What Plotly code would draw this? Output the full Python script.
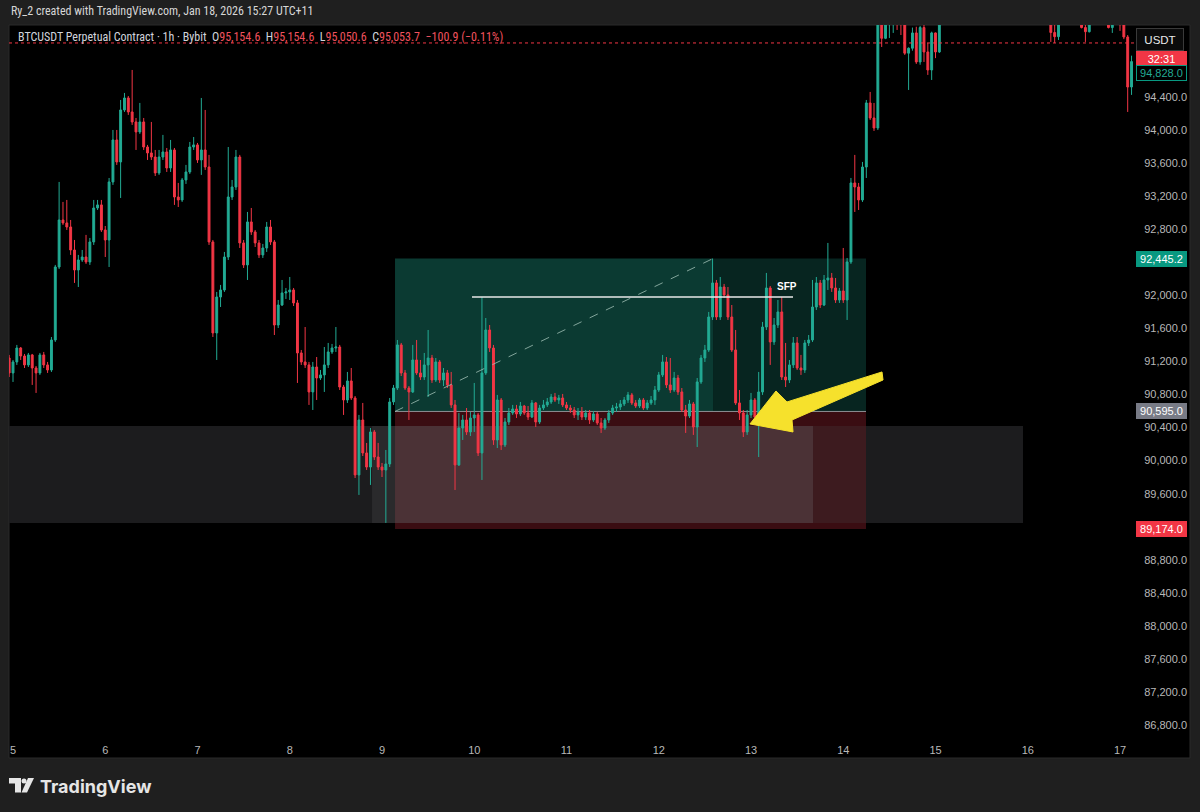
import plotly.graph_objects as go
import pandas as pd

# ---------------- data (BTCUSDT 1h) ----------------
START = "2026-01-04 23:00"

opens = [91242, 91061, 91194, 91363, 91266, 91158, 91279, 91121, 91061, 91279, 91158,
 91097, 91460, 92343, 92912, 92876, 92827, 92549, 92307, 92428, 92464,
 92404, 92646, 93057, 93094, 92791, 92670, 93372, 93880, 93614, 94243,
 94388, 94219, 94098, 93977, 94098, 93795, 93723, 93674, 93481, 93674,
 93735, 93541, 93759, 93190, 93154, 93396, 93493, 93795, 93820, 93638,
 93759, 93553, 92646, 91545, 91980, 92065, 92464, 93190, 93311, 93674,
 92634, 92368, 92888, 92767, 92634, 92489, 92573, 92827, 92646, 91641,
 91883, 92029, 92041, 92065, 91908, 91303, 91194, 91158, 90831, 91133,
 91000, 91037, 91158, 91315, 91363, 91375, 90891, 90734, 90964, 90758,
 89827, 90492, 90093, 89923, 90347, 90044, 89923, 89887, 89960, 90710,
 90879, 91400, 91061, 90879, 90831, 91218, 91061, 91012, 91158, 91242,
 90976, 91194, 90976, 91061, 90916, 90674, 89948, 90395, 90492, 90347,
 90516, 90553, 90093, 91061, 91581, 91363, 90250, 90734, 90190, 90468,
 90577, 90625, 90565, 90661, 90577, 90528, 90698, 90468, 90637, 90674,
 90710, 90770, 90734, 90758, 90674, 90637, 90613, 90553, 90589, 90528,
 90577, 90492, 90565, 90456, 90395, 90492, 90577, 90637, 90649, 90686,
 90734, 90795, 90698, 90661, 90734, 90637, 90698, 90734, 90855, 91037,
 91194, 90916, 90855, 91000, 90831, 90613, 90540, 90686, 90407, 90952,
 91242, 91339, 91738, 92150, 91738, 92101, 92005, 91738, 91339, 90698,
 90577, 90347, 90553, 90734, 90528, 90831, 91617, 92089, 91436, 91641,
 91799, 91012, 90976, 91158, 91424, 91121, 91097, 91424, 91460, 91859,
 92150, 91883, 92186, 92210, 92089, 91944, 92053, 91944, 92404, 93360,
 93311, 93154, 93553, 94328, 94146, 94025, 95600, 95110, 95400, 95550,
 95700, 95500, 95300, 94930, 94990, 95175, 94824, 95240, 94945, 94727,
 95175, 94945, 95600, 95800, 96000, 96200, 96400, 96600, 96500, 96700,
 96850, 96650, 96400, 96500, 96350, 96150, 96300, 96500, 96300, 96000,
 96100, 95950, 95800, 95900, 95700, 95800, 95600, 95700, 95500, 95600,
 95450, 95180, 95130, 95400, 95600, 95700, 95650, 95550, 95500, 95240,
 95190, 95450, 95600, 95650, 95550, 95500, 95240, 95500, 95550, 95300,
 95126, 94521]

highs = [91279, 91218, 91400, 91375, 91291, 91303, 91291, 91145, 91303, 91315, 91194,
 91496, 92368, 93372, 93130, 93154, 92912, 92670, 92489, 92549, 92731,
 92694, 93154, 93154, 93154, 92839, 93420, 94001, 94001, 94364, 94449,
 94412, 94727, 94146, 94328, 94146, 93820, 94098, 93759, 93759, 93941,
 93783, 93880, 93783, 93360, 93420, 93578, 93856, 93916, 93844, 94388,
 94243, 93699, 92670, 92041, 92126, 92525, 93795, 93396, 93759, 93699,
 92670, 93009, 93057, 92791, 92670, 92622, 92888, 92912, 92670, 91944,
 92186, 92089, 92222, 92089, 91944, 91339, 91617, 91194, 91194, 91254,
 91097, 91375, 91424, 91412, 91617, 91400, 90916, 91073, 91121, 90782,
 90553, 90698, 90214, 90395, 90371, 90214, 89972, 90129, 90758, 90916,
 91460, 91424, 91097, 90903, 91400, 91460, 91218, 91303, 91581, 91279,
 91242, 91218, 91121, 91097, 91073, 90734, 90577, 90553, 90637, 90589,
 90940, 90577, 91980, 91726, 91641, 91400, 90795, 90758, 90516, 90637,
 90674, 90674, 90710, 90674, 90661, 90734, 90710, 90674, 90734, 90758,
 90807, 90819, 90795, 90807, 90710, 90674, 90649, 90637, 90649, 90613,
 90613, 90601, 90589, 90516, 90516, 90613, 90674, 90698, 90734, 90770,
 90831, 90819, 90734, 90758, 90758, 90734, 90782, 90903, 91073, 91279,
 91254, 91242, 91073, 91037, 90879, 90674, 90734, 90710, 91000, 91279,
 91400, 91799, 92445, 92186, 92222, 92138, 92101, 91883, 91581, 90855,
 90613, 90613, 90819, 90758, 91073, 91678, 92271, 92113, 91726, 91944,
 91980, 91424, 91218, 91496, 91496, 91279, 91460, 91520, 92186, 92222,
 92186, 92246, 92634, 92271, 92210, 92089, 92573, 92452, 93420, 93699,
 93360, 93614, 94364, 94461, 94328, 95800, 95700, 95450, 95650, 95800,
 95850, 95600, 95400, 95000, 95240, 95250, 95260, 95280, 95054, 95190,
 95180, 95800, 95900, 96100, 96300, 96500, 96700, 96900, 96800, 97000,
 97100, 96800, 96600, 96700, 96500, 96400, 96600, 96650, 96400, 96200,
 96300, 96100, 96000, 96050, 95900, 95950, 95800, 95850, 95700, 95750,
 95550, 95300, 95450, 95650, 95800, 95850, 95750, 95700, 95600, 95300,
 95500, 95700, 95800, 95750, 95650, 95600, 95550, 95700, 95650, 95400,
 95150, 94900]

lows = [91012, 90952, 91158, 91218, 91121, 91133, 90916, 90819, 91037, 91121, 91061,
 91073, 91436, 92319, 92852, 92791, 92489, 92150, 92101, 92404, 92380,
 92368, 92610, 93033, 92767, 92464, 92343, 93336, 93578, 93178, 94219,
 94183, 94062, 93759, 93953, 93759, 93638, 93638, 93444, 93457, 93638,
 93493, 93493, 93094, 93069, 93130, 93348, 93469, 93759, 93602, 93457,
 93517, 92610, 91496, 91218, 91859, 92041, 92428, 93154, 93275, 92573,
 92331, 92186, 92731, 92585, 92452, 92452, 92525, 92610, 91520, 91605,
 91871, 91956, 91944, 91871, 90940, 91158, 91121, 90674, 90613, 90734,
 90976, 90831, 91121, 91291, 91315, 90855, 90553, 90698, 90734, 89790,
 89585, 90056, 89887, 89706, 90008, 89887, 89802, 89246, 89923, 90674,
 90855, 91024, 90855, 90492, 90819, 91037, 90976, 90976, 90770, 90940,
 90952, 90940, 90903, 90879, 90637, 89645, 89935, 90250, 90311, 90298,
 90347, 90056, 89766, 91037, 91315, 90190, 90153, 90129, 90165, 90432,
 90553, 90516, 90540, 90553, 90492, 90516, 90407, 90444, 90613, 90649,
 90686, 90710, 90686, 90649, 90613, 90577, 90516, 90492, 90492, 90492,
 90444, 90468, 90432, 90335, 90371, 90456, 90553, 90589, 90613, 90661,
 90698, 90674, 90637, 90637, 90613, 90613, 90674, 90674, 90831, 91012,
 90879, 90819, 90831, 90795, 90589, 90335, 90516, 90311, 90165, 90928,
 91194, 91315, 91702, 91702, 91702, 91968, 91702, 91315, 90674, 90492,
 90286, 90311, 90516, 90492, 90044, 90795, 91581, 91158, 91400, 91605,
 90976, 90891, 90940, 91121, 91097, 91037, 91061, 91387, 91436, 91823,
 91847, 91871, 92065, 92041, 91908, 91908, 91908, 91702, 92380, 93009,
 93033, 93130, 93420, 94122, 93989, 94000, 95005, 95100, 95114, 95175,
 95211, 95150, 94909, 94485, 94960, 94800, 94790, 94824, 94667, 94606,
 94870, 94933, 95450, 95700, 95900, 96100, 96300, 96400, 96350, 96550,
 96600, 96300, 96200, 96300, 96050, 96000, 96200, 96250, 95900, 95800,
 95900, 95700, 95600, 95650, 95500, 95550, 95400, 95450, 95350, 95400,
 95066, 95054, 95090, 95350, 95500, 95550, 95450, 95400, 95230, 95066,
 95180, 95350, 95500, 95450, 95350, 95230, 95175, 95400, 95200, 95100,
 94219, 94425]

closes = [91061, 91194, 91363, 91266, 91158, 91279, 91121, 91061, 91279, 91158, 91097,
 91460, 92343, 92912, 92876, 92827, 92549, 92307, 92428, 92464, 92404,
 92646, 93057, 93094, 92791, 92670, 93372, 93880, 93614, 94243, 94388,
 94219, 94098, 93977, 94098, 93795, 93723, 93674, 93481, 93674, 93735,
 93541, 93759, 93190, 93154, 93396, 93493, 93795, 93820, 93638, 93759,
 93553, 92646, 91545, 91980, 92065, 92464, 93190, 93311, 93674, 92634,
 92368, 92888, 92767, 92634, 92489, 92573, 92827, 92646, 91641, 91883,
 92029, 92041, 92065, 91908, 91303, 91194, 91158, 90831, 91133, 91000,
 91037, 91158, 91315, 91363, 91375, 90891, 90734, 90964, 90758, 89827,
 90492, 90093, 89923, 90347, 90044, 89923, 89887, 89960, 90710, 90879,
 91400, 91061, 90879, 90831, 91218, 91061, 91012, 91158, 91242, 90976,
 91194, 90976, 91061, 90916, 90674, 89948, 90395, 90492, 90347, 90516,
 90553, 90093, 91061, 91581, 91363, 90250, 90734, 90190, 90468, 90577,
 90625, 90565, 90661, 90577, 90528, 90698, 90468, 90637, 90674, 90710,
 90770, 90734, 90758, 90674, 90637, 90613, 90553, 90589, 90528, 90577,
 90492, 90565, 90456, 90395, 90492, 90577, 90637, 90649, 90686, 90734,
 90795, 90698, 90661, 90734, 90637, 90698, 90734, 90855, 91037, 91194,
 90916, 90855, 91000, 90831, 90613, 90540, 90686, 90407, 90952, 91242,
 91339, 91738, 92150, 91738, 92101, 92005, 91738, 91339, 90698, 90577,
 90347, 90553, 90734, 90528, 90831, 91617, 92089, 91436, 91641, 91799,
 91012, 90976, 91158, 91424, 91121, 91097, 91424, 91460, 91859, 92150,
 91883, 92186, 92210, 92089, 91944, 92053, 91944, 92404, 93360, 93311,
 93154, 93553, 94328, 94146, 94025, 95600, 95110, 95400, 95550, 95700,
 95500, 95300, 94930, 94990, 95175, 94824, 95240, 94945, 94727, 95175,
 94945, 95600, 95800, 96000, 96200, 96400, 96600, 96500, 96700, 96850,
 96650, 96400, 96500, 96350, 96150, 96300, 96500, 96300, 96000, 96100,
 95950, 95800, 95900, 95700, 95800, 95600, 95700, 95500, 95600, 95450,
 95180, 95130, 95400, 95600, 95700, 95650, 95550, 95500, 95240, 95190,
 95450, 95600, 95650, 95550, 95500, 95240, 95500, 95550, 95300, 95126,
 94521, 94828]

TICK_DATES = ["2026-01-05", "2026-01-06", "2026-01-07", "2026-01-08", "2026-01-09",
              "2026-01-10", "2026-01-11", "2026-01-12", "2026-01-13", "2026-01-14",
              "2026-01-15", "2026-01-16", "2026-01-17"]
DAY_LABELS = ["5", "6", "7", "8", "9", "10", "11", "12", "13", "14", "15", "16", "17"]
# price scale labels that are visible (the others are covered by price tags)
PRICE_TICKS = [86800, 87200, 87600, 88000, 88400, 88800, 89600, 90000, 90400,
               90800, 91200, 91600, 92000, 92800, 93200, 93600, 94000, 94400]

# drawing objects (time / price anchors)
X_RANGE = ["2026-01-04 22:57:36", "2026-01-17 03:54:00"]
Y_RANGE = [86644, 95271]
ZONE_T = ["2026-01-04 22:57:36", "2026-01-15 22:46"]
ZONE_B_T = ["2026-01-08 21:24", "2026-01-13 16:08"]
ZONE_P = [89246, 90419]
POS_T = ["2026-01-09 03:23", "2026-01-14 05:55"]
TARGET_HIT_T = "2026-01-12 14:07"
ENTRY, TARGET, STOP = 90595.0, 92445.2, 89174.0
SFP_T = ["2026-01-09 23:25", "2026-01-13 10:56"]
SFP_P = 91980
SFP_LABEL_T, SFP_LABEL_P = "2026-01-13 09:20", 92105
LAST_PRICE = 95053.7
ARROW_T = ["2026-01-12 23:44", "2026-01-13 06:30", "2026-01-13 09:22", "2026-01-14 10:05",
           "2026-01-14 10:21", "2026-01-13 10:40", "2026-01-13 10:56", "2026-01-12 23:44"]
ARROW_P = [90444, 90843, 90710, 91073, 90976, 90492, 90347, 90444]

UP, DOWN = "#22ab94", "#f23645"
FONT = "Liberation Sans, Arial, sans-serif"
NARROW = "Liberation Sans Narrow, Roboto Condensed, Liberation Sans, sans-serif"
PAGE_BG = "#1f1f1f"

times = pd.date_range(START, periods=len(closes), freq="h")

# pixel helpers for page decorations (plot area: x 9..1135, y 25..738)
def px(x):
    return (x - 9) / 1126.0

def py(y):
    return (738 - y) / 713.0

fig = go.Figure()
fig.add_trace(go.Candlestick(
    x=times, open=opens, high=highs, low=lows, close=closes,
    increasing=dict(line=dict(color=UP, width=1), fillcolor=UP),
    decreasing=dict(line=dict(color=DOWN, width=1), fillcolor=DOWN),
    whiskerwidth=0, hoverinfo="skip", showlegend=False))

fig.add_trace(go.Scatter(
    x=ARROW_T, y=ARROW_P, mode="lines", fill="toself",
    fillcolor="#f6e12c", line=dict(color="#f6e12c", width=1),
    hoverinfo="skip", showlegend=False))

shapes = []
# chart panel
shapes.append(dict(type="rect", xref="paper", yref="paper", x0=px(9), x1=px(1190),
                   y0=py(758), y1=py(25), fillcolor="#000000",
                   line=dict(color="#2a2a2a", width=1), layer="below"))

def rect(x0, x1, y0, y1, color, layer="below"):
    shapes.append(dict(type="rect", xref="x", yref="y", x0=x0, x1=x1, y0=y0, y1=y1,
                       fillcolor=color, line=dict(width=0), layer=layer))

rect(ZONE_T[0], ZONE_T[1], ZONE_P[0], ZONE_P[1], "#1c1c1e")
rect(ZONE_B_T[0], ZONE_B_T[1], ZONE_P[0], ZONE_P[1], "#2a2a2c")
rect(POS_T[0], TARGET_HIT_T, ENTRY, TARGET, "#0b3a32")
rect(TARGET_HIT_T, POS_T[1], ENTRY, TARGET, "#072520")
rect(POS_T[0], POS_T[1], STOP, ENTRY, "#3a0d12")
rect(POS_T[0], POS_T[1], ZONE_P[0], ZONE_P[1], "#3d1b1f")
rect(POS_T[0], ZONE_B_T[1], ZONE_P[0], ZONE_P[1], "#4b3236")
# entry line
shapes.append(dict(type="line", xref="x", yref="y", x0=POS_T[0], x1=POS_T[1], y0=ENTRY, y1=ENTRY,
                   line=dict(color="#8e9094", width=1), layer="below"))
# path line entry -> target
shapes.append(dict(type="line", xref="x", yref="y", x0=POS_T[0], x1=TARGET_HIT_T, y0=ENTRY, y1=TARGET,
                   line=dict(color="rgba(170,200,190,0.75)", width=1, dash="dash"), layer="above"))
# SFP level
shapes.append(dict(type="line", xref="x", yref="y", x0=SFP_T[0], x1=SFP_T[1], y0=SFP_P, y1=SFP_P,
                   line=dict(color="#e8e8e8", width=1.5), layer="above"))
# last price dotted line
shapes.append(dict(type="line", xref="paper", yref="y", x0=0, x1=1, y0=LAST_PRICE, y1=LAST_PRICE,
                   line=dict(color=DOWN, width=1, dash="dot"), layer="above"))
# TradingView logo glyph
shapes.append(dict(type="rect", xref="paper", yref="paper", x0=px(9), x1=px(21), y0=py(783.5), y1=py(778),
                   fillcolor="#e6e6e6", line=dict(width=0)))
shapes.append(dict(type="rect", xref="paper", yref="paper", x0=px(15), x1=px(21), y0=py(792.5), y1=py(778),
                   fillcolor="#e6e6e6", line=dict(width=0)))
shapes.append(dict(type="circle", xref="paper", yref="paper", x0=px(21.5), x1=px(26.5), y0=py(783.5), y1=py(778.5),
                   fillcolor="#e6e6e6", line=dict(width=0)))
shapes.append(dict(type="path", xref="paper", yref="paper",
                   path=f"M {px(28)},{py(778)} L {px(34)},{py(778)} L {px(27)},{py(792.5)} L {px(21.5)},{py(792.5)} Z",
                   fillcolor="#e6e6e6", line=dict(width=0)))

ann = []
ann.append(dict(xref="paper", yref="paper", x=px(9), y=py(11), xanchor="left", yanchor="middle",
                text="Ry_2 created with TradingView.com, Jan 18, 2026 15:27 UTC+11",
                showarrow=False, font=dict(family=NARROW, size=12, color="#d6d6d6")))
red = "#f0525e"
legend = ("BTCUSDT Perpetual Contract · 1h · Bybit&nbsp;&nbsp;"
          f"O<span style='color:{red}'>95,154.6</span>&nbsp; "
          f"H<span style='color:{red}'>95,154.6</span>&nbsp; "
          f"L<span style='color:{red}'>95,050.6</span>&nbsp; "
          f"C<span style='color:{red}'>95,053.7</span>&nbsp; "
          f"<span style='color:{red}'>−100.9 (−0.11%)</span>")
ann.append(dict(xref="paper", yref="paper", x=px(16), y=py(37), xanchor="left", yanchor="middle",
                text=legend, showarrow=False, font=dict(family=NARROW, size=12, color="#d1d4dc")))
ann.append(dict(xref="x", yref="y", x=SFP_LABEL_T, y=SFP_LABEL_P, text="<b>SFP</b>", showarrow=False,
                font=dict(family=FONT, size=10, color="#ffffff")))

def price_label(y, text, bg, fg="#ffffff", border=None, yref="y"):
    ann.append(dict(xref="paper", yref=yref, x=px(1136), y=y, xanchor="left", yanchor="middle",
                    text=text, showarrow=False, width=47, height=12, align="center",
                    bgcolor=bg, bordercolor=border or bg, borderwidth=1, borderpad=1,
                    font=dict(family=FONT, size=11, color=fg)))

price_label(TARGET, "92,445.2", "#089981")
price_label(ENTRY, "90,595.0", "#787b86")
price_label(STOP, "89,174.0", "#f23645")
price_label(py(58.5), "32:31", "#f23645", yref="paper")
price_label(py(73), "94,828.0", "#000000", fg="#22ab94", border="#089981", yref="paper")
ann.append(dict(xref="paper", yref="paper", x=px(1136), y=py(39), xanchor="left", yanchor="middle",
                text="USDT", showarrow=False, width=44, height=19, align="center",
                bgcolor="#0b0b0b", bordercolor="#3a3a3a", borderwidth=1, borderpad=1,
                font=dict(family=FONT, size=11.5, color="#e8e8e8")))
ann.append(dict(xref="paper", yref="paper", x=px(38), y=py(786), xanchor="left", yanchor="middle",
                text="<b>TradingView</b>", showarrow=False,
                font=dict(family="Inter, Roboto, sans-serif", size=18, color="#e6e6e6")))

fig.update_layout(
    width=1200, height=812,
    margin=dict(l=9, r=65, t=25, b=74, pad=0),
    paper_bgcolor=PAGE_BG, plot_bgcolor="#000000",
    shapes=shapes, annotations=ann, showlegend=False,
    font=dict(family=FONT, color="#b8b8b8"),
    xaxis=dict(type="date", range=X_RANGE, rangeslider=dict(visible=False),
               showgrid=False, zeroline=False, showline=False,
               tickvals=TICK_DATES, ticktext=DAY_LABELS,
               ticks="outside", ticklen=2, tickcolor="rgba(0,0,0,0)",
               tickfont=dict(family=FONT, size=11, color="#b8b8b8")),
    yaxis=dict(side="right", range=Y_RANGE, showgrid=False, zeroline=False, showline=False,
               tickvals=PRICE_TICKS, ticktext=[f"{v:,.1f}" for v in PRICE_TICKS],
               ticks="outside", ticklen=6, tickcolor="rgba(0,0,0,0)",
               tickfont=dict(family=FONT, size=11, color="#b8b8b8")),
)

fig.write_html(
    "out.html",
    config={"displayModeBar": False},
    post_script=("document.body.style.margin='0';"
                 "document.body.style.overflow='hidden';"
                 f"document.body.style.background='{PAGE_BG}';"
                 f"document.documentElement.style.background='{PAGE_BG}';"),
)
